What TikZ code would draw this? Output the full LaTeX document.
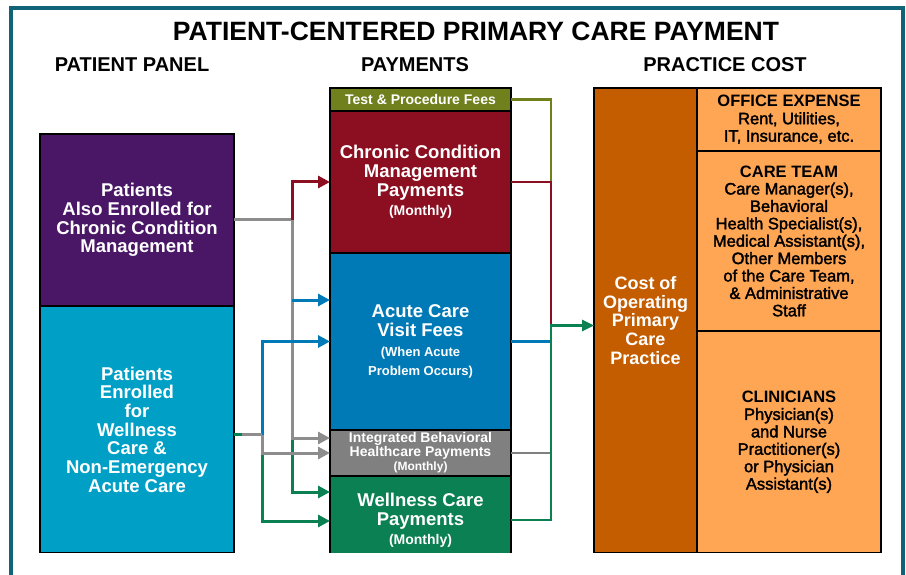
\documentclass[tikz,border=0pt]{standalone}
\usepackage{fontspec}
\setmainfont{Liberation Sans}
\newfontfamily\medfont{Liberation Sans}[FakeBold=2]
\usetikzlibrary{arrows.meta, positioning, calc}

\definecolor{frameteal}{HTML}{116378}
\definecolor{panelpurple}{HTML}{4A1767}
\definecolor{panelcyan}{HTML}{00A0C6}
\definecolor{payolive}{HTML}{6F801C}
\definecolor{payred}{HTML}{8B0F21}
\definecolor{payblue}{HTML}{007AB7}
\definecolor{paygray}{HTML}{808080}
\definecolor{paygreen}{HTML}{0B8052}
\definecolor{costdark}{HTML}{C45C00}
\definecolor{costlight}{HTML}{FFA655}

\newcommand{\costhead}[1]{{\normalfont\bfseries #1}}
\newcommand{\paynote}[2][14]{{\fontsize{#1}{15}\selectfont #2}}

\tikzset{
    base/.style = {rectangle, draw=black, line width=2pt, outer sep=0pt, inner sep=0pt, align=center},
    panel/.style = {base, text=white, minimum width=194pt, font=\bfseries\fontsize{18.5}{18.7}\selectfont},
    pay/.style = {base, text=white, minimum width=181pt, font=\bfseries\fontsize{18.5}{18.7}\selectfont},
    expense/.style = {base, fill=costlight, text=black, minimum width=184pt, font=\medfont\fontsize{16.5}{17.4}\selectfont},
    head/.style = {font=\bfseries\fontsize{20}{24}\selectfont},
    link/.style = {line width=3pt, -{Triangle[length=12pt, width=12pt]}},
    feed/.style = {line width=2.5pt}
}

\begin{document}
\begin{tikzpicture}[x=1pt, y=-1pt]
    \useasboundingbox (0,0) rectangle (906,575);

    % Titles
    \node (title) [font=\bfseries\fontsize{26.5}{30}\selectfont] at (476,31) {PATIENT-CENTERED PRIMARY CARE PAYMENT};
    \node (panelhead) [head] at (132,65) {PATIENT PANEL};
    \node (payhead) [head] at (415,65) {PAYMENTS};
    \node (costhead) [head] at (725,65) {PRACTICE COST};

    \begin{scope}
        \clip (0,0) rectangle (906,552);

        % Patient panel
        \node (pchronic) [panel, fill=panelpurple, minimum height=172pt, anchor=north west] at (40,134) {Patients\\Also Enrolled for\\Chronic Condition\\Management};
        \node (pwell) [panel, fill=panelcyan, minimum height=247pt, below=0pt of pchronic] {Patients\\Enrolled\\for\\Wellness\\Care \&\\Non-Emergency\\Acute Care};

        % Payments
        \node (test) [pay, fill=payolive, minimum height=23pt, anchor=north west, font=\bfseries\fontsize{14}{15}\selectfont] at (330,88) {Test \& Procedure Fees};
        \node (chronic) [pay, fill=payred, minimum height=142pt, below=0pt of test] {Chronic Condition\\Management\\Payments\\[1pt]\paynote{(Monthly)}};
        \node (acute) [pay, fill=payblue, minimum height=177pt, below=0pt of chronic] {Acute Care\\Visit Fees\\[2pt]\paynote[13]{(When Acute}\\\paynote[13]{Problem Occurs)}};
        \node (integ) [pay, fill=paygray, minimum height=46pt, below=0pt of acute, font=\bfseries\fontsize{14}{13}\selectfont] {Integrated Behavioral\\Healthcare Payments\\[1pt]\paynote[12]{(Monthly)}};
        \node (wellness) [pay, fill=paygreen, minimum height=89pt, below=0pt of integ] {Wellness Care\\Payments\\[1pt]\paynote{(Monthly)}};

        % Practice cost
        \node (cost) [base, fill=costdark, text=white, minimum width=103pt, minimum height=465pt, anchor=north west, font=\bfseries\fontsize{18}{18.7}\selectfont] at (594,88) {Cost of\\Operating\\Primary\\Care\\Practice};
        \node (office) [expense, minimum height=63pt, anchor=north west] at (cost.north east) {\costhead{OFFICE EXPENSE}\\Rent, Utilities,\\IT, Insurance, etc.};
        \node (team) [expense, minimum height=180pt, below=0pt of office] {\costhead{CARE TEAM}\\Care Manager(s),\\Behavioral\\Health Specialist(s),\\Medical Assistant(s),\\Other Members\\of the Care Team,\\\& Administrative\\Staff};
        \node (clin) [expense, minimum height=222pt, below=0pt of team] {\costhead{CLINICIANS}\\Physician(s)\\and Nurse\\Practitioner(s)\\or Physician\\Assistant(s)};
    \end{scope}

    % Junctions
    \coordinate (trunkC) at ($(pchronic.east)+(58,0)$);
    \coordinate (srcW) at ($(pwell.east)+(0,5)$);
    \coordinate (trunkW) at ($(srcW)+(28,0)$);
    \coordinate (acuteC) at ($(acute.north west)+(0,47)$);
    \coordinate (merge) at ($(cost.west)+(-43,5)$);

    % Chronic condition patients
    \draw [link, paygreen] (trunkC) |- ($(wellness.north west)+(0,16)$);
    \draw [link, paygray!90] (pchronic.east) -- (trunkC) |- ($(integ.north west)+(0,8)$);
    \draw [link, payred] (trunkC) |- (chronic.west);
    \draw [link, payblue] (trunkC |- acuteC) -- (acuteC);

    % Wellness patients
    \draw [link, paygreen] (trunkW) |- ($(wellness.north west)+(0,45)$);
    \draw [link, payblue] (trunkW) |- (acute.west);
    \draw [link, paygray!90] (trunkW) |- (integ.west);
    \draw [line width=3pt, paygreen] (srcW) -- ++(8,0);
    \draw [line width=3pt, paygray!90] ($(srcW)+(8,0)$) -- (trunkW);

    % Payments into practice cost
    \draw [feed, payolive] (test.east) -| (merge |- chronic.east);
    \draw [feed, payred] (chronic.east) -| (merge);
    \draw [feed, payblue] (acute.east) -- (acute.east -| merge);
    \draw [feed, paygray] (integ.east) -- (integ.east -| merge);
    \draw [feed, paygreen, -{Triangle[length=12pt, width=11pt]}] ($(wellness.north east)+(0,44)$) -| (merge) -- (merge -| cost.west);

    % Frame
    \draw [frameteal, line width=4pt] (11,580) -- (11,8) -- (903,8) -- (903,580);
\end{tikzpicture}
\end{document}
